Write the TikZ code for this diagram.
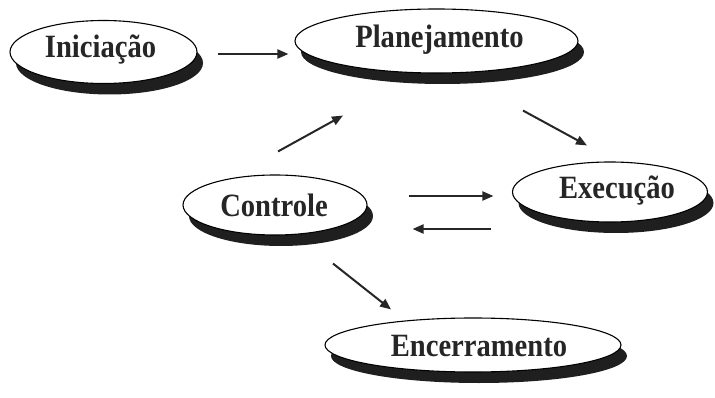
\documentclass[tikz,border=0pt]{standalone}
\usepackage{fontspec}
\setmainfont{Liberation Serif}[FakeStretch=0.88]
\usetikzlibrary{shapes.geometric,shadows,arrows.meta}
\begin{document}
\begin{tikzpicture}[x=1pt,y=-1pt,
  phase/.style={ellipse, draw=black, line width=1.1pt, fill=white, inner sep=0pt,
    text=black!85, font=\fontsize{32.5}{32.5}\selectfont\bfseries,
    drop shadow={shadow xshift=6pt, shadow yshift=-11pt, opacity=1, fill=black!88}},
  label/.style={text=black!85, font=\fontsize{32.5}{32.5}\selectfont\bfseries, inner sep=0pt},
  flow/.style={line width=2pt, draw=black!85, -{Triangle[length=11pt,width=9pt]}}]
  \useasboundingbox (0,0) rectangle (715,398);

  % process phases
  \node[phase, minimum width=187pt, minimum height=63pt] (ini)  at (103.5,52) {};
  \node[phase, minimum width=283pt, minimum height=64pt] (plan) at (436.5,41) {};
  \node[phase, minimum width=184pt, minimum height=60pt] (ctrl) at (275,205)  {};
  \node[phase, minimum width=195pt, minimum height=60pt] (exec) at (610,192)  {};
  \node[phase, minimum width=296pt, minimum height=54pt] (enc)  at (473,345)  {};

  % phase names
  \node[label] (ini-t)  at ([shift={(-3,-2)}]ini.center)  {Iniciação};
  \node[label] (plan-t) at ([shift={(3,-1)}]plan.center)  {Planejamento};
  \node[label] (ctrl-t) at ([shift={(-1,0)}]ctrl.center)  {Controle};
  \node[label] (exec-t) at ([shift={(7,-1)}]exec.center)  {Execução};
  \node[label] (enc-t)  at ([shift={(6,1)}]enc.center)    {Encerramento};

  % transitions between phases
  \draw[flow] ([shift={(20,2)}]ini.east)      -- ([shift={(-6,13)}]plan.west);
  \draw[flow] ([shift={(3,-23)}]ctrl.north)   -- ([shift={(-93.5,42)}]plan.south);
  \draw[flow] ([shift={(86.5,37)}]plan.south) -- ([shift={(-23,-16)}]exec.north);
  \draw[flow] ([shift={(41,-9)}]ctrl.east)    -- ([shift={(-18.5,4)}]exec.west);
  \draw[flow] ([shift={(-20.5,37)}]exec.west) -- ([shift={(45,24)}]ctrl.east);
  \draw[flow] ([shift={(58,28)}]ctrl.south)   -- ([shift={(-82,-8)}]enc.north);
\end{tikzpicture}
\end{document}
